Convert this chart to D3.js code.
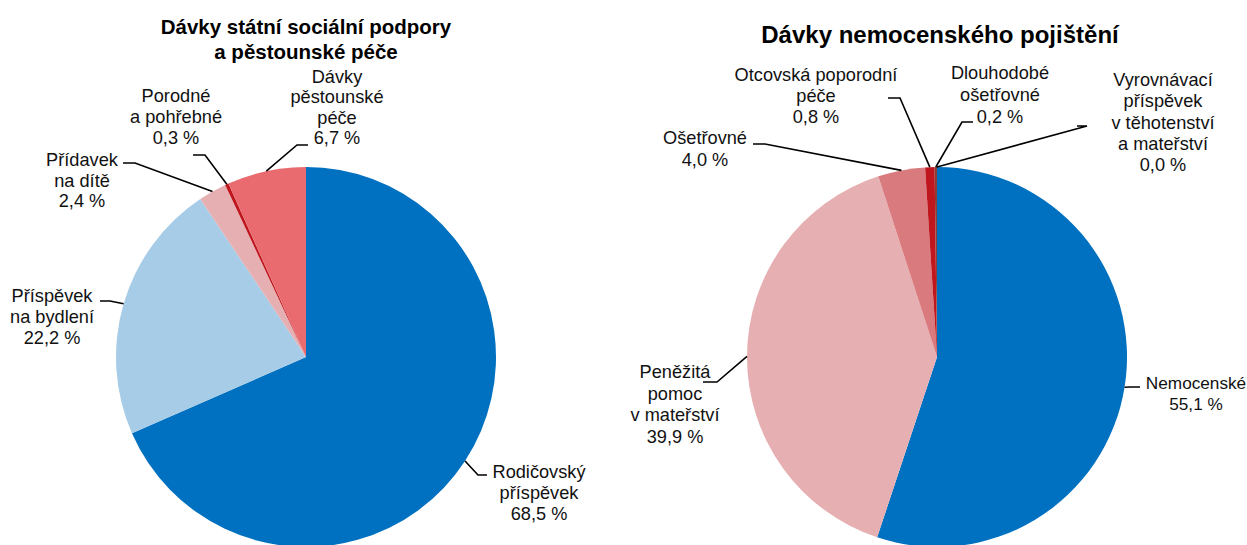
<!DOCTYPE html>
<html><head><meta charset="utf-8">
<script src="https://cdn.jsdelivr.net/npm/d3@7"></script>
<style>
html,body{margin:0;padding:0;background:#fff;}
svg{display:block;font-family:Arial,"Liberation Sans",sans-serif;}
</style></head>
<body><svg id="c" width="1247" height="545"></svg>
<script>
// ---- data ----
const leftTitle = ["Dávky státní sociální podpory", "a pěstounské péče"];
const leftCategories = ["Rodičovský příspěvek", "Příspěvek na bydlení", "Přídavek na dítě", "Porodné a pohřebné", "Dávky pěstounské péče"];
const leftValues = [68.5, 22.2, 2.4, 0.3, 6.7];
const leftLabelLines = [["Rodičovský","příspěvek"],["Příspěvek","na bydlení"],["Přídavek","na dítě"],["Porodné","a pohřebné"],["Dávky","pěstounské","péče"]];

const rightTitle = ["Dávky nemocenského pojištění"];
const rightCategories = ["Nemocenské", "Peněžitá pomoc v mateřství", "Ošetřovné", "Otcovská poporodní péče", "Dlouhodobé ošetřovné", "Vyrovnávací příspěvek v těhotenství a mateřství"];
const rightValues = [55.1, 39.9, 4.0, 0.8, 0.2, 0.0];
const rightLabelLines = [["Nemocenské"],["Peněžitá","pomoc","v mateřství"],["Ošetřovné"],["Otcovská poporodní","péče"],["Dlouhodobé","ošetřovné"],["Vyrovnávací","příspěvek","v těhotenství","a mateřství"]];

// ---- styles / layout ----
const leftColors = ["#0070C0", "#A7CCE7", "#E6AFB2", "#C0171F", "#E96B70"];
const rightColors = ["#0070C0", "#E6AFB2", "#D97B7E", "#C0171F", "#8E3B33", "#5A1A1A"];

// label layout: cx, first line baseline y, line height, elbow point, end point
const leftLayout = [
  {cx:539, y:478, lh:21, elbow:[478,475], end:[487,475]},
  {cx:52,  y:302, lh:21, elbow:[110,301], end:[100,301]},
  {cx:82,  y:166, lh:20.5, elbow:[135,163], end:[123,163]},
  {cx:176, y:102, lh:21, elbow:[205,155], end:[193,155]},
  {cx:337, y:83,  lh:20.3, elbow:[297,145], end:[308,145]}
];
const rightLayout = [
  {cx:1196, y:389, lh:21, elbow:[1130,387], end:[1140,387], fs:17.2},
  {cx:675,  y:378, lh:21.7, elbow:[717,382], end:[703,382]},
  {cx:705,  y:144, lh:22, elbow:[765,144], end:[753,144]},
  {cx:816,  y:81,  lh:21, elbow:[900,98], end:[888,98]},
  {cx:1000, y:79,  lh:22, elbow:[962,122], end:[973,122]},
  {cx:1163, y:86,  lh:21.3, elbow:[1087,126], end:[1077,126]}
];

const svg = d3.select("#c");

function fmt(v){ return d3.format(".1f")(v).replace(".", ",") + " %"; }

function drawPie(cfg){
  const g = svg.append("g");
  const pie = d3.pie().sort(null).value(d => d)(cfg.values);
  const arc = d3.arc().innerRadius(0).outerRadius(cfg.r);
  const pg = g.append("g").attr("transform", `translate(${cfg.cx},${cfg.cy})`);
  pg.selectAll("path").data(pie).join("path")
    .attr("d", arc)
    .attr("fill", (d,i) => cfg.colors[i]);

  // title
  g.append("text")
    .attr("text-anchor","middle")
    .attr("font-weight","bold")
    .attr("font-size", cfg.tsize)
    .attr("fill","#000")
    .selectAll("tspan").data(cfg.title).join("tspan")
    .attr("x", cfg.tx)
    .attr("y", (d,i) => cfg.ty + i*25)
    .text(d => d);

  // leaders and labels
  pie.forEach((p, i) => {
    const L = cfg.layout[i];
    const a = (p.startAngle + p.endAngle)/2;
    const px = cfg.cx + cfg.r*Math.sin(a);
    const py = cfg.cy - cfg.r*Math.cos(a);
    g.append("polyline")
      .attr("points", [[px,py], L.elbow, L.end].map(q => q.join(",")).join(" "))
      .attr("fill","none").attr("stroke","#000").attr("stroke-width",1.6);
    const lines = cfg.labelLines[i].concat([fmt(cfg.values[i])]);
    g.append("text")
      .attr("text-anchor","middle")
      .attr("font-size", L.fs || 18.2)
      .attr("fill","#111")
      .selectAll("tspan").data(lines).join("tspan")
      .attr("x", L.cx)
      .attr("y", (d,k) => L.y + k*L.lh)
      .text(d => d);
  });
}

drawPie({cx:306, cy:357, r:190, values:leftValues, colors:leftColors, labelLines:leftLabelLines,
  layout:leftLayout, title:leftTitle, tx:306, ty:34, tsize:20.5});
drawPie({cx:937, cy:357, r:190, values:rightValues, colors:rightColors, labelLines:rightLabelLines,
  layout:rightLayout, title:rightTitle, tx:940, ty:43, tsize:24});
</script>
</body></html>
